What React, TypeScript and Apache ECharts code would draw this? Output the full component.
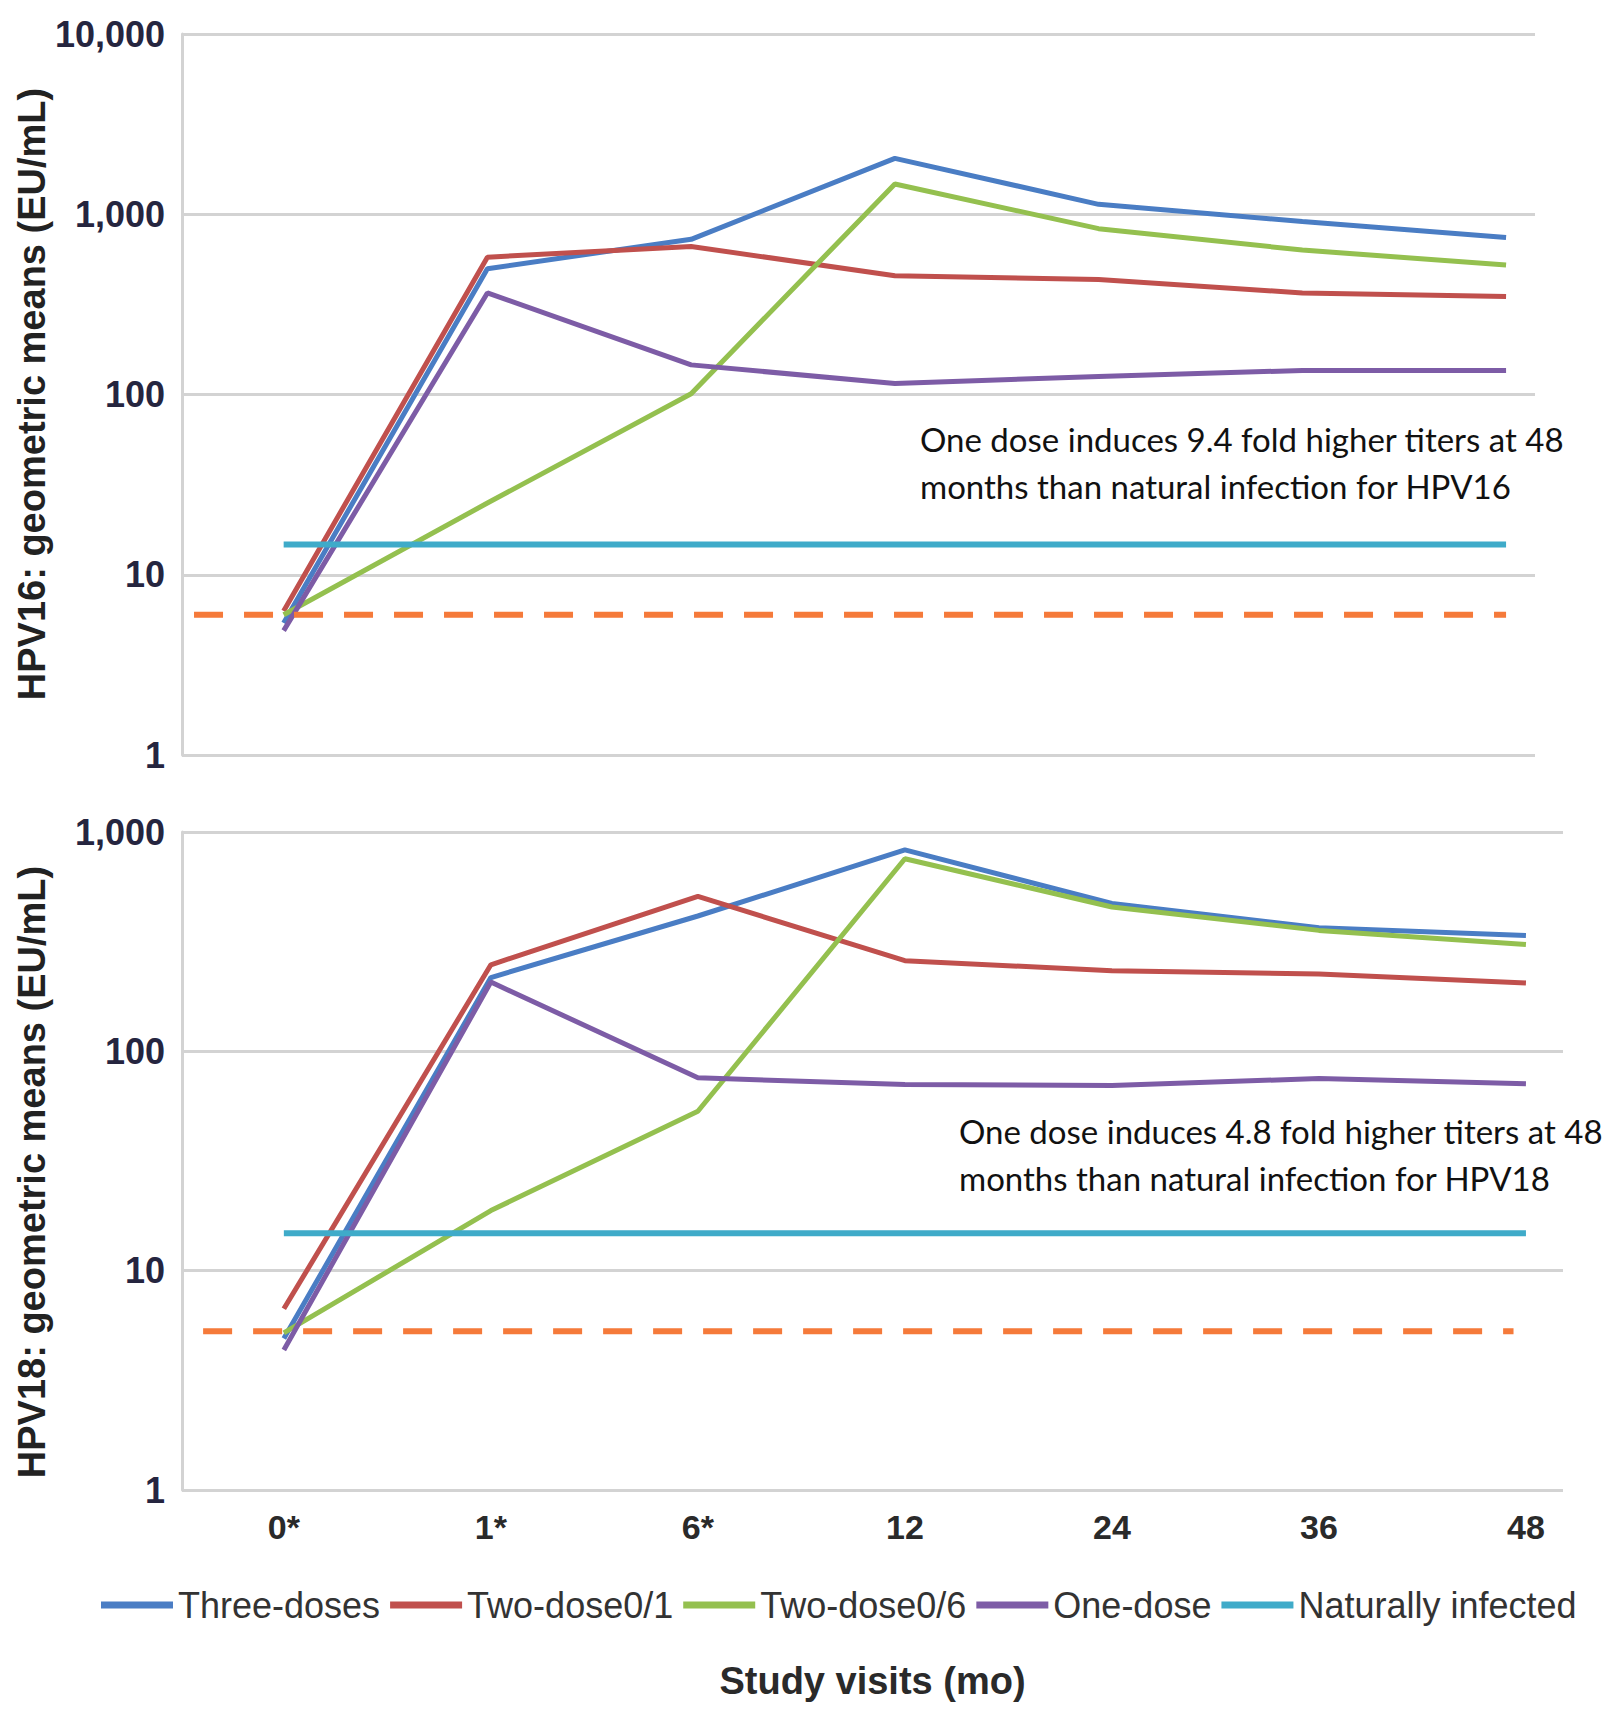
import React, { useEffect, useRef } from "react";
import * as echarts from "echarts";

// ---- data ----
const categories = ["0*", "1*", "6*", "12", "24", "36", "48"];
const seriesNames = ["Three-doses", "Two-dose0/1", "Two-dose0/6", "One-dose", "Naturally infected"];

// HPV16 panel (EU/mL)
const threeDoses16 = [5.4, 499, 726, 2043, 1135, 912, 743];
const twoDose01_16 = [6.3, 578, 663, 456, 434, 366, 350];
const twoDose06_16 = [6.0, 25, 101, 1472, 832, 633, 523];
const oneDose16 = [4.9, 366, 146, 115, 126, 136, 136];
const natural16 = [14.7, 14.7, 14.7, 14.7, 14.7, 14.7, 14.7];
const cutoff16 = 6.0;
const cutoffSpan16 = [-0.44, 6.0];

// HPV18 panel (EU/mL)
const threeDoses18 = [4.9, 217, 414, 829, 472, 366, 337];
const twoDose01_18 = [6.7, 248, 509, 259, 233, 225, 205];
const twoDose06_18 = [5.2, 18.8, 53.3, 755, 455, 356, 307];
const oneDose18 = [4.35, 207, 75.7, 70.6, 69.8, 75.2, 71.1];
const natural18 = [14.8, 14.8, 14.8, 14.8, 14.8, 14.8, 14.8];
const cutoff18 = 5.29;
const cutoffSpan18 = [-0.39, 5.94];

const yMax16 = 10000;
const yMax18 = 1000;
const xRange16 = [-0.499, 6.142];
const xRange18 = [-0.492, 6.179];

const note16 = "One dose induces 9.4 fold higher titers at 48\nmonths than natural infection for HPV16";
const note18 = "One dose induces 4.8 fold higher titers at 48\nmonths than natural infection for HPV18";
const yTitle16 = "HPV16: geometric means (EU/mL)";
const yTitle18 = "HPV18: geometric means (EU/mL)";
const xTitle = "Study visits (mo)";

// ---- styles ----
const colors = ["#4a7dc4", "#c0504d", "#94c04f", "#7d5ca6", "#3fabc9"];
const cutoffColor = "#f57a3a";
const gridColor = "#d3d3d3";
const FONT = "'Liberation Sans', Arial, Helvetica, sans-serif";
const NOTE_FONT = "33px Lato, 'Open Sans', sans-serif";

function toPairs(vals: number[]) {
  return vals.map((v, i) => [i, v]);
}

export default function App() {
  const ref = useRef<HTMLDivElement>(null);

  useEffect(() => {
    document.body.style.margin = "0";
    if (!ref.current) return;
    const chart = echarts.init(ref.current, undefined, { renderer: "svg" });

    const yAxisBase = (gridIndex: number, max: number) => ({
      gridIndex,
      type: "log",
      logBase: 10,
      min: 1,
      max,
      axisLine: { show: true, onZero: false, lineStyle: { color: gridColor, width: 3 } },
      axisTick: { show: false },
      splitLine: { show: true, lineStyle: { color: gridColor, width: 3 } },
      axisLabel: {
        formatter: (v: number) => Math.round(v).toLocaleString("en-US"),
        fontSize: 36,
        fontWeight: "bold",
        color: "#25253f",
        fontFamily: FONT,
        margin: 17,
      },
    });

    const panels = [
      { data: [threeDoses16, twoDose01_16, twoDose06_16, oneDose16, natural16], cutoff: cutoff16, span: cutoffSpan16 },
      { data: [threeDoses18, twoDose01_18, twoDose06_18, oneDose18, natural18], cutoff: cutoff18, span: cutoffSpan18 },
    ];

    const series: any[] = [];
    panels.forEach((p, gi) => {
      p.data.forEach((vals, si) => {
        series.push({
          type: "line",
          name: seriesNames[si],
          xAxisIndex: gi,
          yAxisIndex: gi,
          data: toPairs(vals),
          showSymbol: false,
          symbol: "none",
          color: colors[si],
          lineStyle: { color: colors[si], width: si === 4 ? 6 : 5 },
          z: 2 + si,
        });
      });
      series.push({
        type: "line",
        name: "cutoff",
        xAxisIndex: gi,
        yAxisIndex: gi,
        data: [
          [p.span[0], p.cutoff],
          [p.span[1], p.cutoff],
        ],
        showSymbol: false,
        symbol: "none",
        color: cutoffColor,
        lineStyle: { color: cutoffColor, width: 6, type: [29, 21] },
        z: 10,
      });
    });

    const option: any = {
      animation: false,
      backgroundColor: "#ffffff",
      textStyle: { fontFamily: FONT },
      grid: [
        { left: 182, top: 34, width: 1353, height: 721 },
        { left: 182, top: 832, width: 1381, height: 658 },
      ],
      xAxis: [
        {
          gridIndex: 0,
          type: "value",
          min: xRange16[0],
          max: xRange16[1],
          axisLine: { show: false },
          axisTick: { show: false },
          axisLabel: { show: false },
          splitLine: { show: false },
        },
        {
          gridIndex: 1,
          type: "value",
          min: xRange18[0],
          max: xRange18[1],
          axisLine: { show: false },
          axisTick: { show: false },
          splitLine: { show: false },
          axisLabel: {
            customValues: categories.map((_, i) => i),
            formatter: (v: number) => categories[Math.round(v)] ?? "",
            fontSize: 34,
            fontWeight: "bold",
            color: "#2a2a2a",
            fontFamily: FONT,
            margin: 20,
          },
          name: xTitle,
          nameLocation: "middle",
          nameGap: 172,
          nameTextStyle: { fontSize: 38, fontWeight: "bold", color: "#2a2a2a", fontFamily: FONT },
        },
      ],
      yAxis: [yAxisBase(0, yMax16), yAxisBase(1, yMax18)],
      legend: {
        data: seriesNames,
        left: 96,
        top: 1580,
        icon: "rect",
        itemWidth: 72,
        itemHeight: 7,
        itemGap: 10,
        textStyle: { fontSize: 36, color: "#333333", fontFamily: FONT, lineHeight: 40 },
      },
      graphic: [
        {
          type: "text",
          x: 32,
          y: 394,
          rotation: Math.PI / 2,
          style: { text: yTitle16, font: `bold 38px ${FONT}`, fill: "#222222", align: "center", verticalAlign: "middle" },
        },
        {
          type: "text",
          x: 32,
          y: 1172,
          rotation: Math.PI / 2,
          style: { text: yTitle18, font: `bold 38px ${FONT}`, fill: "#222222", align: "center", verticalAlign: "middle" },
        },
        {
          type: "text",
          x: 920,
          y: 415,
          style: { text: note16, font: NOTE_FONT, fill: "#111111", lineHeight: 47, verticalAlign: "top" },
        },
        {
          type: "text",
          x: 959,
          y: 1107,
          style: { text: note18, font: NOTE_FONT, fill: "#111111", lineHeight: 47, verticalAlign: "top" },
        },
      ],
      series,
    };

    chart.setOption(option);
    return () => chart.dispose();
  }, []);

  return <div ref={ref} style={{ width: 1614, height: 1714 }} />;
}
